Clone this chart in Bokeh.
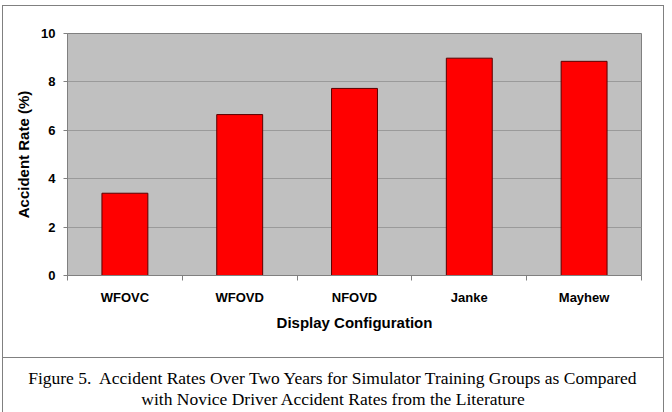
from bokeh.plotting import figure
from bokeh.layouts import column, row
from bokeh.models import Range1d, FixedTicker, ColumnDataSource, Spacer
from bokeh.core.properties import value
from bokeh.embed import file_html
from bokeh.resources import INLINE

# Accident rates (%) by display configuration / literature source
categories = ["WFOVC", "WFOVD", "NFOVD", "Janke", "Mayhew"]
accident_rate = [3.4, 6.65, 7.73, 8.98, 8.85]
y_ticks = [0, 2, 4, 6, 8, 10]

caption_lines = [
    "Figure 5.\u00a0 Accident Rates Over Two Years for Simulator Training Groups as Compared",
    "with Novice Driver Accident Rates from the Literature",
]

GRAY = "#808080"
INNER_W = 660        # width inside the box rules
CHART_H = 351        # chart panel height (between top rule and divider)
CAP_H = 54           # caption panel height

centers = [i + 0.5 for i in range(len(categories))]
bounds = list(range(len(categories) + 1))
src = ColumnDataSource(dict(x=centers, top=accident_rate, name=categories))


def rule(w, h):
    """A thin filled strip used for the box border lines."""
    return Spacer(width=w, height=h, styles={"background-color": GRAY})


# ---- chart panel -------------------------------------------------------
p = figure(width=INNER_W, height=CHART_H, output_backend="svg",
           toolbar_location=None,
           x_range=Range1d(0, len(categories)), y_range=Range1d(0, 10),
           min_border_left=64, min_border_right=22,
           min_border_top=27, min_border_bottom=82)
p.frame_align = False

p.background_fill_color = "#C0C0C0"
p.border_fill_color = "white"
p.outline_line_color = GRAY
p.outline_line_width = 1

p.vbar(x="x", top="top", width=0.4, bottom=0, source=src,
       fill_color="#FF0000", line_color="#5a0000", line_width=1)

ya = p.yaxis[0]
ya.ticker = FixedTicker(ticks=y_ticks, minor_ticks=[])
ya.axis_label = "Accident Rate (%)"
ya.axis_label_text_font = "Liberation Sans"
ya.axis_label_text_font_style = "bold"
ya.axis_label_text_font_size = "15px"
ya.axis_label_text_color = "black"
ya.axis_label_standoff = 6
ya.major_label_text_font = "Liberation Sans"
ya.major_label_text_font_style = "bold"
ya.major_label_text_font_size = "13px"
ya.major_label_text_color = "black"
ya.major_label_standoff = 8
ya.major_tick_out = 4
ya.major_tick_in = 0
ya.axis_line_color = GRAY
ya.major_tick_line_color = GRAY

# labels at category centres, tick marks at category boundaries
xa = p.xaxis[0]
xa.ticker = FixedTicker(ticks=centers, minor_ticks=bounds)
xa.major_label_overrides = {c: n for c, n in zip(centers, categories)}
xa.axis_label = "Display Configuration"
xa.axis_label_text_font = "Liberation Sans"
xa.axis_label_text_font_style = "bold"
xa.axis_label_text_font_size = "15px"
xa.axis_label_text_color = "black"
xa.axis_label_standoff = 6
xa.major_label_text_font = "Liberation Sans"
xa.major_label_text_font_style = "bold"
xa.major_label_text_font_size = "13px"
xa.major_label_text_color = "black"
xa.major_label_standoff = 8
xa.major_tick_line_color = None
xa.minor_tick_out = 5
xa.minor_tick_in = 0
xa.minor_tick_line_color = GRAY
xa.axis_line_color = GRAY

p.xgrid.grid_line_color = None
p.ygrid.ticker = FixedTicker(ticks=y_ticks)
p.ygrid.grid_line_color = "#9a9a9a"
p.ygrid.grid_line_width = 1

# ---- caption panel -----------------------------------------------------
c = figure(width=INNER_W, height=CAP_H, output_backend="svg",
           toolbar_location=None,
           x_range=Range1d(0, INNER_W), y_range=Range1d(CAP_H, 0),
           min_border=0, x_axis_type=None, y_axis_type=None)
c.frame_align = False
c.outline_line_color = None
c.background_fill_color = "white"
c.border_fill_color = "white"
c.xgrid.visible = False
c.ygrid.visible = False

c.text(x=[INNER_W / 2] * 2, y=[19, 40], text=caption_lines,
       text_align="center", text_baseline="middle",
       text_font=value("Liberation Serif"), text_font_size="17.5px",
       text_color="black")

box = column(
    rule(INNER_W + 2, 1),
    row(rule(1, CHART_H), p, rule(1, CHART_H), spacing=0),
    rule(INNER_W + 2, 1),
    row(rule(1, CAP_H), c, rule(1, CAP_H), spacing=0),
    spacing=0,
)

layout = row(Spacer(width=2, height=5),
             column(Spacer(width=INNER_W + 2, height=5), box, spacing=0),
             spacing=0)

open("out.html", "w").write(file_html(layout, INLINE))
